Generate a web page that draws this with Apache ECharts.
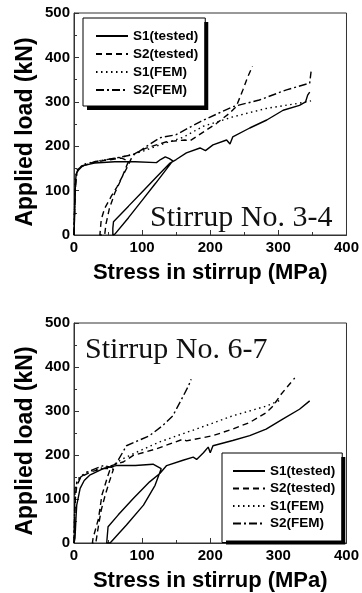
<!DOCTYPE html>
<html>
<head>
<meta charset="utf-8">
<script src="https://cdn.jsdelivr.net/npm/echarts@6/dist/echarts.min.js"></script>
<style>
  html, body { margin: 0; padding: 0; background: #fff; }
  #chart { width: 362px; height: 593px; }
</style>
</head>
<body>
<div id="chart"></div>
<script>
// series names, same in both panels
const seriesNames = ["S1(tested)", "S2(tested)", "S1(FEM)", "S2(FEM)"];
const panelTitles = ["Stirrup No. 3-4", "Stirrup No. 6-7"];

// axis ticks
const xTicks = [0, 400, 100];   // min, max, interval
const yTicks = [0, 500, 100];

// panel 1 (stirrup No. 3-4): [stress MPa, load kN]
const s1TestTop = [
  [0, 0], [1, 50], [2, 110], [3, 135], [6, 148], [12, 156], [30, 162], [60, 165],
  [90, 165], [121, 163], [127, 170], [134, 176], [140, 172], [145, 167],
  [120, 117], [100, 78], [80, 39], [60, 2], [57, 0], [57, 15], [58, 30],
  [80, 65], [100, 97], [120, 129], [141, 162], [150, 170], [165, 185], [185, 196],
  [193, 190], [204, 203], [224, 214], [229, 205], [233, 221], [258, 241],
  [283, 259], [307, 281], [331, 292], [340, 300], [343, 315], [346, 322]
];
const s2TestTop = [
  [0, 0], [1, 60], [2, 110], [4, 140], [8, 152], [20, 160], [45, 168], [70, 173],
  [80, 166], [70, 128], [60, 95], [52, 60], [47, 25], [45, 0], [38, 0], [40, 35],
  [45, 60], [55, 88], [63, 108], [72, 135], [79, 155], [84, 172], [90, 184],
  [105, 195], [121, 203], [136, 210], [163, 214], [170, 212], [194, 236],
  [209, 251], [228, 274], [238, 289], [248, 327], [255, 356], [262, 380]
];
const s1FemTop = [
  [0, 0], [1, 80], [2, 130], [5, 148], [15, 160], [40, 168], [70, 175], [100, 188],
  [130, 205], [160, 220], [190, 245], [233, 266], [282, 285], [331, 297], [348, 302]
];
const s2FemTop = [
  [0, 0], [1, 70], [3, 130], [6, 145], [12, 155], [30, 165], [60, 173], [90, 182],
  [106, 199], [126, 219], [150, 226], [185, 255], [233, 289], [272, 304],
  [312, 327], [346, 342], [348, 368]
];

// panel 2 (stirrup No. 6-7)
const s1TestBottom = [
  [0, 0], [1.5, 11], [3, 60], [4, 86], [9, 124], [15, 142], [23, 154], [43, 169],
  [62, 176], [90, 176], [116, 179], [128, 169], [119, 131], [102, 86], [77, 41],
  [53, 0], [48, 0], [50, 37], [65, 64], [87, 101], [111, 139], [126, 158],
  [136, 176], [160, 188], [175, 195], [180, 190], [190, 205], [197, 218],
  [200, 205], [204, 221], [233, 233], [258, 244], [282, 259], [307, 282],
  [331, 304], [346, 323]
];
const s2TestBottom = [
  [0, 0], [1, 50], [2, 100], [4, 130], [10, 150], [25, 162], [45, 170], [58, 168],
  [52, 140], [46, 110], [40, 75], [36, 40], [33, 10], [32, 0], [27, 0], [28, 11],
  [36, 56], [41, 109], [50, 154], [55, 176], [72, 184], [87, 199], [121, 214],
  [160, 236], [165, 232], [204, 244], [233, 259], [258, 274], [282, 296],
  [292, 311], [304, 338], [324, 375]
];
const s1FemBottom = [
  [0, 0], [1, 70], [2, 115], [4, 138], [8, 150], [20, 162], [40, 170], [55, 175],
  [70, 190], [90, 205], [126, 230], [185, 262], [233, 289], [282, 311], [302, 324]
];
const s2FemBottom = [
  [0, 0], [1, 80], [1.5, 124], [5, 140], [10, 150], [19, 161], [43, 176], [55, 172],
  [60, 175], [77, 221], [111, 244], [131, 268], [145, 289], [158, 327],
  [168, 357], [172, 372]
];

const panels = [
  [s1TestTop, s2TestTop, s1FemTop, s2FemTop],
  [s1TestBottom, s2TestBottom, s1FemBottom, s2FemBottom]
];

const chart = echarts.init(document.getElementById("chart"));

const sans = "Liberation Sans, Arial, sans-serif";
const serif = "30px Liberation Serif, Times New Roman, serif";
const frame = "#333";
const lineTypes = ["solid", [6, 4], [1.5, 3.5], [8, 3, 2, 3]];

const gridTops = [13, 323];

function xAxisFor(i) {
  return {
    type: "value",
    gridIndex: i,
    min: xTicks[0],
    max: xTicks[1],
    interval: xTicks[2],
    name: "Stress in stirrup (MPa)",
    nameLocation: "middle",
    nameGap: 27,
    nameMoveOverlap: false,
    nameTextStyle: { fontFamily: sans, fontWeight: "bold", fontSize: 22, color: "#000" },
    axisLine: { show: true, lineStyle: { color: frame, width: 1 } },
    axisTick: { show: true, inside: true, length: 5, lineStyle: { color: frame } },
    minorTick: { show: true, splitNumber: 2, length: 3, lineStyle: { color: frame } },
    axisLabel: { fontFamily: sans, fontWeight: "bold", fontSize: 15, color: "#000", margin: 5 },
    splitLine: { show: false }
  };
}

function yAxisFor(i) {
  return {
    type: "value",
    gridIndex: i,
    min: yTicks[0],
    max: yTicks[1],
    interval: yTicks[2],
    name: "Applied load (kN)",
    nameLocation: "middle",
    nameGap: 37,
    nameMoveOverlap: false,
    nameTextStyle: {
      fontFamily: sans, fontWeight: "bold", fontSize: 23, color: "#000",
      padding: [0, 16, 0, 0]
    },
    axisLine: { show: true, lineStyle: { color: frame, width: 1 } },
    axisTick: { show: true, inside: true, length: 5, lineStyle: { color: frame } },
    minorTick: { show: true, splitNumber: 2, length: 3, lineStyle: { color: frame } },
    axisLabel: { fontFamily: sans, fontWeight: "bold", fontSize: 15, color: "#000", margin: 4 },
    splitLine: { show: false }
  };
}

const legendFontSize = 13.5;
const legendFont = { fontFamily: sans, fontWeight: "bold", fontSize: legendFontSize, color: "#000" };
const legendIconWidth = 32;

// two legend boxes: position, row height, gap, padding [t, r, b, l]
const legendBoxes = [
  { left: 83, top: 18, itemHeight: 14, itemGap: 4, padding: [11, 7, 9, 12] },
  { left: 222, top: 453, itemHeight: 13, itemGap: 3.5, padding: [11, 7, 12, 10] }
];

// size of each legend box, so a thick black drop shadow can be stroked along its right and bottom
const ctx = document.createElement("canvas").getContext("2d");
ctx.font = "bold " + legendFontSize + "px " + sans;
const maxTextW = Math.max(...seriesNames.map((n) => ctx.measureText(n).width));
const shadowW = 4;

const shadowLines = legendBoxes.map((b) => {
  const rowH = Math.max(b.itemHeight, legendFontSize);
  const w = b.padding[3] + legendIconWidth + 5 + maxTextW + b.padding[1];
  const h = b.padding[0] + seriesNames.length * rowH + (seriesNames.length - 1) * b.itemGap + b.padding[2];
  const r = b.left + w;
  const btm = b.top + h;
  return {
    type: "polyline",
    z: 100,
    silent: true,
    shape: {
      points: [
        [r + shadowW / 2, b.top + shadowW],
        [r + shadowW / 2, btm + shadowW / 2],
        [b.left + shadowW, btm + shadowW / 2]
      ]
    },
    style: { stroke: "#000", lineWidth: shadowW, fill: null, lineJoin: "miter", lineCap: "butt" }
  };
});

const series = [];
panels.forEach((sets, p) => {
  sets.forEach((data, k) => {
    series.push({
      name: seriesNames[k],
      type: "line",
      xAxisIndex: p,
      yAxisIndex: p,
      data: data,
      symbol: "none",
      showSymbol: false,
      animation: false,
      lineStyle: { color: "#000", width: 1.4, type: lineTypes[k] },
      itemStyle: { color: "#000" }
    });
  });
});

const option = {
  backgroundColor: "#fff",
  animation: false,
  grid: gridTops.map((t) => ({
    left: 74, top: t, width: 273, height: 222,
    show: true, borderColor: frame, borderWidth: 1, backgroundColor: "transparent"
  })),
  xAxis: [xAxisFor(0), xAxisFor(1)],
  yAxis: [yAxisFor(0), yAxisFor(1)],
  legend: legendBoxes.map((b) => Object.assign({
    orient: "vertical",
    data: seriesNames,
    itemWidth: legendIconWidth,
    backgroundColor: "#fff",
    borderColor: "#000",
    borderWidth: 1,
    selectedMode: false,
    itemStyle: { opacity: 0 },
    textStyle: legendFont
  }, b)),
  graphic: shadowLines.concat([
    {
      type: "text", left: 150, top: 203,
      style: { text: panelTitles[0], font: serif, fill: "#111" }
    },
    {
      type: "text", left: 85, top: 335,
      style: { text: panelTitles[1], font: serif, fill: "#111" }
    }
  ]),
  series: series
};

chart.setOption(option);
</script>
</body>
</html>
